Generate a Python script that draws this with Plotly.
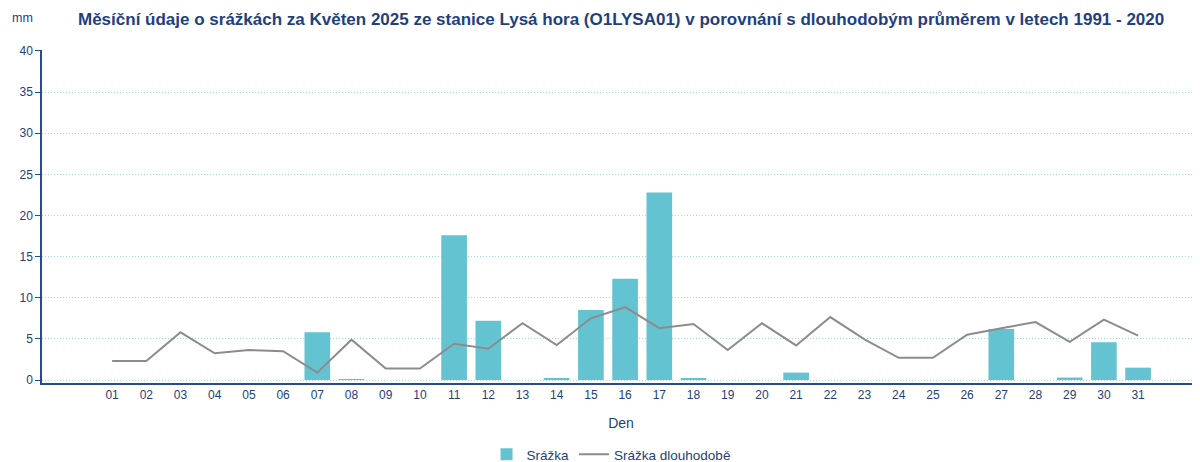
import plotly.graph_objects as go

days = ["01","02","03","04","05","06","07","08","09","10","11","12","13","14","15","16",
        "17","18","19","20","21","22","23","24","25","26","27","28","29","30","31"]
srazka = [0, 0, 0, 0, 0, 0, 5.8, 0.1, 0, 0, 17.6, 7.2, 0, 0.2, 8.5, 12.3,
          22.8, 0.2, 0, 0, 0.9, 0, 0, 0, 0, 0, 6.2, 0, 0.3, 4.6, 1.5]
dlouhodobe = [2.3, 2.3, 5.8, 3.25, 3.65, 3.5, 0.9, 4.9, 1.4, 1.4, 4.4, 3.8, 6.9, 4.25, 7.5, 8.85,
              6.3, 6.8, 3.65, 6.9, 4.2, 7.65, 4.95, 2.7, 2.7, 5.5, 6.3, 7.05, 4.65, 7.35, 5.4]
y_ticks = [0, 5, 10, 15, 20, 25, 30, 35, 40]

title_text = ("Měsíční údaje o srážkách za Květen 2025 ze stanice Lysá hora (O1LYSA01) "
              "v porovnání s dlouhodobým průměrem v letech 1991 - 2020")

navy = "#213f7d"
font_family = "Liberation Sans, Arial, sans-serif"

fig = go.Figure()
fig.add_trace(go.Bar(x=days, y=srazka, name="Srážka", marker=dict(color="#63c3d1", line=dict(width=0)),
                     width=0.75))
fig.add_trace(go.Scatter(x=days, y=dlouhodobe, name="Srážka dlouhodobě", mode="lines",
                         line=dict(color="#8c8c8c", width=2)))

fig.update_layout(
    width=1200, height=462,
    margin=dict(l=34, r=8, t=42, b=87, autoexpand=False),
    paper_bgcolor="white", plot_bgcolor="white",
    font=dict(family=font_family, size=12, color=navy),
    showlegend=True,
    legend=dict(orientation="h", x=0.4914, xanchor="center", xref="paper",
                y=0.0, yanchor="bottom", yref="container",
                font=dict(size=13.5, color=navy), traceorder="normal", itemwidth=30),
    bargap=0.25,
)
fig.update_xaxes(
    type="category", range=[-2.05, 31.81], automargin=False,
    showline=True, linecolor="#2b4a8c", linewidth=2,
    showgrid=False, ticks="", tickfont=dict(size=12, color=navy),
    title=dict(text="Den", font=dict(size=14, color=navy), standoff=17),
    zeroline=False,
)
fig.update_yaxes(
    range=[-0.365, 40.12], tickvals=y_ticks, automargin=False,
    showline=True, linecolor="#2b4a8c", linewidth=1.5,
    ticks="outside", ticklen=5, tickcolor="#2b4a8c",
    showgrid=True, gridcolor="#9fdce6", griddash="1px,2px", gridwidth=1,
    zeroline=False, tickfont=dict(size=12, color=navy),
)
fig.add_annotation(text="mm", xref="paper", yref="paper", x=0, y=1, xshift=-32, yshift=32,
                   xanchor="left", yanchor="middle", showarrow=False,
                   font=dict(size=12.5, color=navy))
fig.add_annotation(text="<b>" + title_text + "</b>", xref="paper", yref="paper", x=0.5, y=1,
                   yshift=42, xshift=0, xanchor="center", yanchor="top", showarrow=False,
                   font=dict(size=17, color="#1f3f7f"))

fig.write_html("out.html")
